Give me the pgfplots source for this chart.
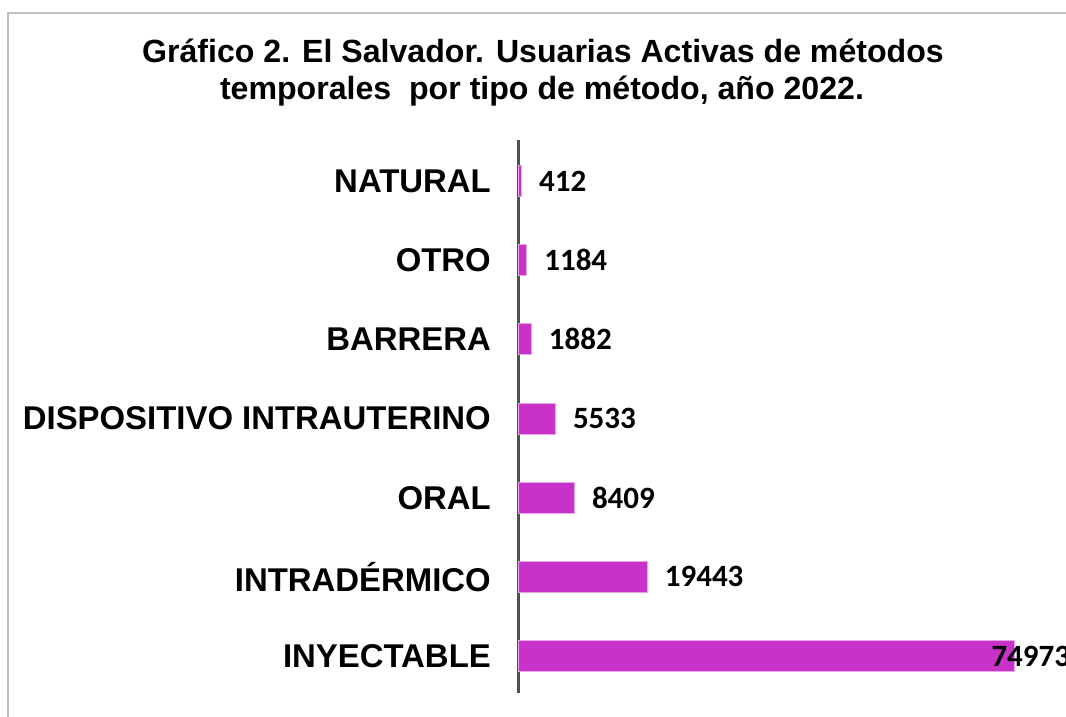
\documentclass[border=0pt]{standalone}
\usepackage{pgfplots}
\pgfplotsset{compat=1.18}
\usepackage{pgfplotstable}
\usepackage{fontspec}
\setmainfont{Liberation Sans}
\newfontfamily\valfont{Carlito}
\definecolor{barc}{HTML}{C832C8}
\definecolor{baredge}{HTML}{E8A6E8}
\definecolor{framec}{HTML}{BFBFBF}
\definecolor{axc}{HTML}{505050}
\pgfplotstableread{
y x dx
0 74973 -23
1 19443 17
2 8409 17
3 5533 17
4 1882 17
5 1184 17
6 412 17
}\datatab
\begin{document}
\begin{tikzpicture}[x=1pt,y=1pt]
\useasboundingbox (0,0) rectangle (1066,717);
\fill[white] (0,0) rectangle (1066,717);
\draw[framec, line width=2.5pt] (8,-5) -- (8,704) -- (1071,704);
\node[anchor=base, inner sep=0pt, font=\fontsize{32.1}{37}\selectfont\bfseries] at (543,654) {Gráfico 2. El Salvador. Usuarias Activas de métodos};
\node[anchor=base, inner sep=0pt, font=\fontsize{32.1}{37}\selectfont\bfseries] at (542,617) {temporales\ \ por tipo de método, año 2022.};
\begin{axis}[
  at={(519pt,24pt)}, anchor=south west,
  scale only axis,
  width=528.2pt, height=553pt,
  xbar, bar width=31pt, bar shift=0pt,
  xmin=0, xmax=80000,
  ymin=-0.467, ymax=6.518,
  axis x line=none,
  axis y line=left,
  y axis line style={-, draw=axc, line width=3pt},
  ytick={0,1,2,3,4,5,6},
  yticklabels={INYECTABLE,INTRADÉRMICO,ORAL,DISPOSITIVO INTRAUTERINO,BARRERA,OTRO,NATURAL},
  major tick length=0pt,
  ytick style={draw=none},
  yticklabel style={anchor=east, inner sep=0pt, xshift=-28pt, font=\fontsize{32.9}{36}\selectfont\bfseries},
  clip=false,
  visualization depends on={\thisrow{dx} \as \dx},
  nodes near coords,
  nodes near coords style={anchor=west, inner sep=0pt, xshift=\dx pt, font=\valfont\fontsize{31}{36}\selectfont\bfseries, text=black},
  point meta=explicit symbolic,
]
\addplot[fill=barc, draw=baredge, line width=1pt] table[x=x, y=y, meta=x] {\datatab};
\end{axis}
\end{tikzpicture}
\end{document}
